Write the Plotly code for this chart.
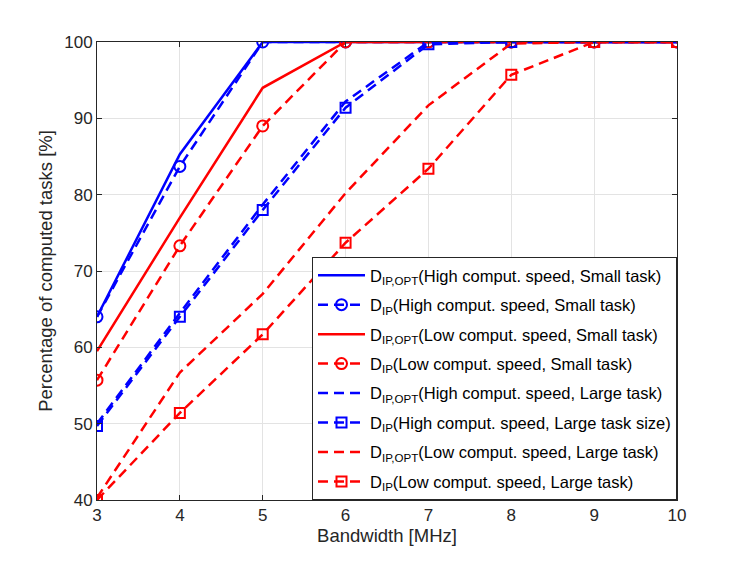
import plotly.graph_objects as go

bandwidth = [3, 4, 5, 6, 7, 8, 9, 10]

opt_high_small = [64.0, 85.3, 100, 100, 100, 100, 100, 100]
ip_high_small = [64.0, 83.7, 100, 100, 100, 100, 100, 100]
opt_low_small = [59.5, 77.0, 94.0, 100, 100, 100, 100, 100]
ip_low_small = [55.7, 73.3, 89.0, 100, 100, 100, 100, 100]
opt_high_large = [50.0, 64.5, 78.7, 92.2, 100, 100, 100, 100]
ip_high_large = [49.7, 64.0, 78.0, 91.4, 99.7, 100, 100, 100]
opt_low_large = [40.3, 56.7, 67.0, 80.2, 91.7, 99.8, 100, 100]
ip_low_large = [40.0, 51.4, 61.7, 73.7, 83.4, 95.7, 100, 100]

names = [
    "D<sub>IP,OPT</sub>(High comput. speed, Small task)",
    "D<sub>IP</sub>(High comput. speed, Small task)",
    "D<sub>IP,OPT</sub>(Low comput. speed, Small task)",
    "D<sub>IP</sub>(Low comput. speed, Small task)",
    "D<sub>IP,OPT</sub>(High comput. speed, Large task)",
    "D<sub>IP</sub>(High comput. speed, Large task size)",
    "D<sub>IP,OPT</sub>(Low comput. speed, Large task)",
    "D<sub>IP</sub>(Low comput. speed, Large task)",
]
series = [opt_high_small, ip_high_small, opt_low_small, ip_low_small,
          opt_high_large, ip_high_large, opt_low_large, ip_low_large]
colors = ["#0000FF", "#0000FF", "#FF0000", "#FF0000",
          "#0000FF", "#0000FF", "#FF0000", "#FF0000"]
dashes = ["solid", "10px,6px", "solid", "10px,6px",
          "10px,6px", "10px,6px", "10px,6px", "10px,6px"]
symbols = [None, "circle-open", None, "circle-open",
           None, "square-open", None, "square-open"]

fig = go.Figure()
for i, (name, y, c, d, s) in enumerate(zip(names, series, colors, dashes, symbols)):
    mode = "lines+markers" if s else "lines"
    fig.add_trace(go.Scatter(
        x=bandwidth, y=y, name=name, mode=mode, legendgroup=f"g{i}",
        line=dict(color=c, width=2.5, dash=d),
        marker=dict(symbol=s or "circle", size=11 if s == "circle-open" else 10,
                    color=c, line=dict(color=c, width=2)),
    ))

axis_common = dict(
    showline=True, linecolor="#262626", linewidth=1, mirror="ticks",
    ticks="inside", ticklen=5, tickcolor="#262626",
    showgrid=True, gridcolor="#E3E3E3", gridwidth=1,
    zeroline=False, tickfont=dict(size=17, color="#262626"),
)
fig.update_xaxes(range=[3, 10], tickvals=bandwidth,
                 title=dict(text="Bandwidth [MHz]", font=dict(size=18.5, color="#262626"), standoff=4),
                 **axis_common)
fig.update_yaxes(range=[40, 100], tickvals=[40, 50, 60, 70, 80, 90, 100],
                 title=dict(text="Percentage of computed tasks [%]", font=dict(size=18.5, color="#262626"), standoff=6),
                 **axis_common)

fig.update_layout(
    width=739, height=553,
    margin=dict(l=89, r=70, t=34, b=61),
    paper_bgcolor="white", plot_bgcolor="white",
    font=dict(family="Liberation Sans, Arial, sans-serif", color="#262626"),
    showlegend=True,
    legend=dict(x=1, y=0, xanchor="right", yanchor="bottom",
                bgcolor="white", bordercolor="#262626", borderwidth=1,
                font=dict(size=16.5, color="#000000"), tracegroupgap=5,
                itemwidth=47),
)

fig.write_html("out.html")
